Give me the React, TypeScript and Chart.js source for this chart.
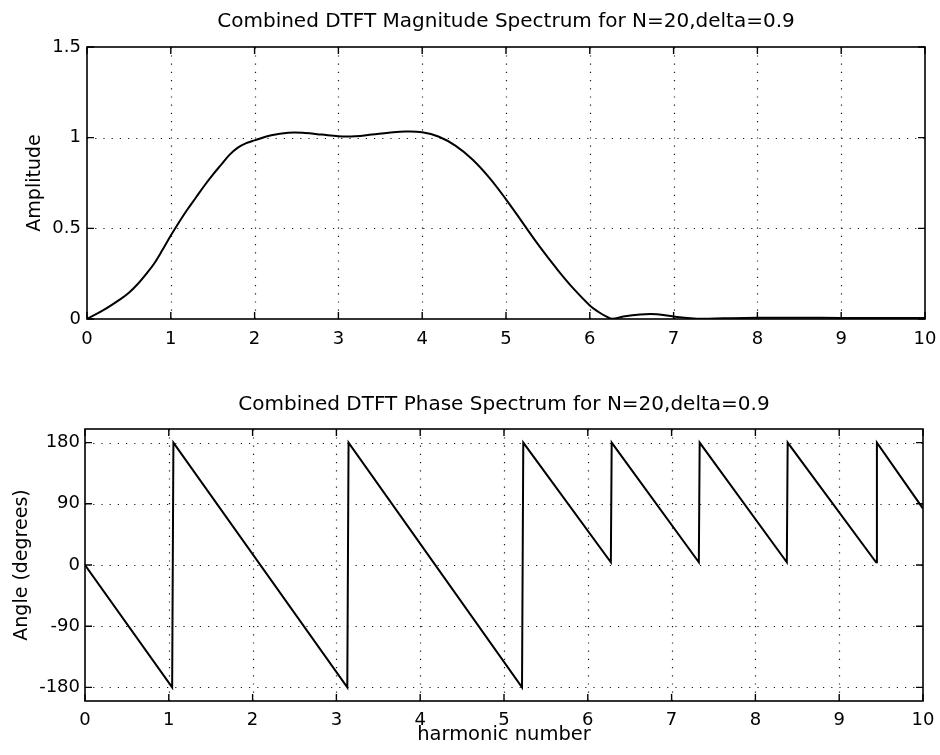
import React, { useEffect, useRef } from "react";
import { Chart, registerables } from "chart.js";

Chart.register(...registerables);

// ---- data ----
const magX = [0, 0.2, 0.4, 0.5, 0.6, 0.7, 0.8, 0.9, 1.0, 1.1, 1.2, 1.3, 1.4, 1.5, 1.6, 1.7, 1.8, 1.9, 2.0, 2.2, 2.4, 2.6, 2.8, 3.0, 3.2, 3.4, 3.6, 3.8, 4.0, 4.2, 4.4, 4.6, 4.8, 5.0, 5.2, 5.4, 5.6, 5.8, 6.0, 6.1, 6.2, 6.27, 6.4, 6.6, 6.8, 7.0, 7.2, 7.35, 7.6, 8.0, 8.5, 9.0, 9.5, 10];
const magY = [0, 0.05, 0.11, 0.145, 0.19, 0.245, 0.305, 0.38, 0.46, 0.535, 0.605, 0.67, 0.735, 0.795, 0.85, 0.905, 0.945, 0.97, 0.985, 1.013, 1.027, 1.026, 1.017, 1.008, 1.008, 1.017, 1.027, 1.034, 1.03, 1.005, 0.955, 0.88, 0.78, 0.66, 0.53, 0.4, 0.28, 0.17, 0.075, 0.04, 0.013, 0.001, 0.014, 0.025, 0.026, 0.014, 0.004, 0.001, 0.004, 0.007, 0.007, 0.006, 0.006, 0.005];

const phaseX = [0, 1.04, 1.055, 3.13, 3.145, 5.215, 5.23, 6.275, 6.285, 7.325, 7.335, 8.375, 8.385, 9.44, 9.45, 10];
const phaseY = [0, -180, 180, -180, 180, -180, 180, 4, 180, 4, 180, 4, 180, 4, 180, 83];

const xTicks = [0, 1, 2, 3, 4, 5, 6, 7, 8, 9, 10];
const magTicks = [0, 0.5, 1, 1.5];
const phaseTicks = [-180, -90, 0, 90, 180];

const magTitle = "Combined DTFT Magnitude Spectrum for N=20,delta=0.9";
const phaseTitle = "Combined DTFT Phase Spectrum for N=20,delta=0.9";
const magYLabel = "Amplitude";
const phaseYLabel = "Angle (degrees)";
const xLabel = "harmonic number";

const FONT = "'DejaVu Sans', sans-serif";

const framePlugin = {
  id: "matlabFrame",
  beforeDatasetsDraw(chart: any) {
    const { ctx, chartArea: a, scales } = chart;
    ctx.save();
    ctx.strokeStyle = "#1a1a1a";
    ctx.lineWidth = 1.2;
    ctx.setLineDash([1.2, 7]);
    scales.x.ticks.forEach((t: any) => {
      const px = Math.round(scales.x.getPixelForValue(t.value)) + 0.5;
      if (px > a.left + 2 && px < a.right - 2) {
        ctx.beginPath();
        ctx.moveTo(px, a.bottom);
        ctx.lineTo(px, a.top);
        ctx.stroke();
      }
    });
    scales.y.ticks.forEach((t: any) => {
      const py = Math.round(scales.y.getPixelForValue(t.value)) + 0.5;
      if (py > a.top + 2 && py < a.bottom - 2) {
        ctx.beginPath();
        ctx.moveTo(a.left, py);
        ctx.lineTo(a.right, py);
        ctx.stroke();
      }
    });
    ctx.restore();
  },
  afterDatasetsDraw(chart: any) {
    const { ctx, chartArea: a, scales } = chart;
    const tl = 7;
    ctx.save();
    ctx.setLineDash([]);
    ctx.strokeStyle = "#000";
    ctx.lineWidth = 1.6;
    ctx.strokeRect(a.left, a.top, a.right - a.left, a.bottom - a.top);
    ctx.lineWidth = 1.4;
    scales.x.ticks.forEach((t: any) => {
      const px = scales.x.getPixelForValue(t.value);
      ctx.beginPath();
      ctx.moveTo(px, a.bottom);
      ctx.lineTo(px, a.bottom - tl);
      ctx.moveTo(px, a.top);
      ctx.lineTo(px, a.top + tl);
      ctx.stroke();
    });
    scales.y.ticks.forEach((t: any) => {
      const py = scales.y.getPixelForValue(t.value);
      ctx.beginPath();
      ctx.moveTo(a.left, py);
      ctx.lineTo(a.left + tl, py);
      ctx.moveTo(a.right, py);
      ctx.lineTo(a.right - tl, py);
      ctx.stroke();
    });
    // title centred over the plot box
    const t = chart.options.plugins.boxTitle;
    if (t && t.text) {
      ctx.fillStyle = "#000";
      ctx.font = `20px ${FONT}`;
      ctx.textAlign = "center";
      ctx.textBaseline = "middle";
      ctx.fillText(t.text, (a.left + a.right) / 2, t.y);
    }
    ctx.restore();
  },
};

type Cfg = {
  xs: number[];
  ys: number[];
  smooth: boolean;
  title: string;
  titleY: number;
  topPad: number;
  yLabel: string;
  yLabelPad: number;
  yMin: number;
  yMax: number;
  yTicks: number[];
  yWidth: number;
  yTickPad: number;
  xHeight: number;
  xTickPad: number;
  xLabel?: string;
  xLabelPad?: number;
  rightPad: number;
};

function makeConfig(c: Cfg): any {
  const pts = c.xs.map((x, i) => ({ x, y: c.ys[i] }));
  return {
    type: "line",
    data: {
      datasets: [
        {
          data: pts,
          borderColor: "#000",
          borderWidth: 2,
          pointRadius: 0,
          fill: false,
          tension: c.smooth ? 0.4 : 0,
        },
      ],
    },
    options: {
      responsive: false,
      animation: false,
      devicePixelRatio: 1,
      layout: { padding: { left: 0, right: c.rightPad, top: c.topPad, bottom: 0 } },
      plugins: {
        legend: { display: false },
        tooltip: { enabled: false },
        title: { display: false },
        boxTitle: { text: c.title, y: c.titleY },
      },
      scales: {
        x: {
          type: "linear",
          min: 0,
          max: 10,
          grid: { display: false, drawTicks: false },
          border: { display: false },
          afterBuildTicks: (s: any) => {
            s.ticks = xTicks.map((v) => ({ value: v }));
          },
          afterFit: (s: any) => {
            s.height = c.xHeight;
            s.paddingLeft = 0;
            s.paddingRight = 0;
          },
          ticks: {
            autoSkip: false,
            maxRotation: 0,
            color: "#000",
            padding: c.xTickPad,
            font: { family: FONT, size: 18 },
            callback: (v: any) => String(v),
          },
          title: c.xLabel
            ? {
                display: true,
                text: c.xLabel,
                color: "#000",
                font: { family: FONT, size: 19.5 },
                padding: { top: 0, bottom: c.xLabelPad },
              }
            : { display: false },
        },
        y: {
          type: "linear",
          min: c.yMin,
          max: c.yMax,
          grid: { display: false, drawTicks: false },
          border: { display: false },
          afterBuildTicks: (s: any) => {
            s.ticks = c.yTicks.map((v) => ({ value: v }));
          },
          afterFit: (s: any) => {
            s.width = c.yWidth;
            s.paddingTop = 0;
            s.paddingBottom = 0;
          },
          ticks: {
            autoSkip: false,
            color: "#000",
            padding: c.yTickPad,
            font: { family: FONT, size: 18 },
            callback: (v: any) => String(v),
          },
          title: {
            display: true,
            text: c.yLabel,
            color: "#000",
            font: { family: FONT, size: 19 },
            padding: { top: c.yLabelPad, bottom: 0 },
          },
        },
      },
    },
    plugins: [framePlugin],
  };
}

function ChartCanvas({ cfg, width, height, top }: { cfg: Cfg; width: number; height: number; top: number }) {
  const ref = useRef<HTMLCanvasElement | null>(null);
  useEffect(() => {
    if (!ref.current) return;
    const chart = new Chart(ref.current, makeConfig(cfg));
    return () => chart.destroy();
  }, []);
  return (
    <canvas
      ref={ref}
      width={width}
      height={height}
      style={{ position: "absolute", left: 0, top, width, height, display: "block" }}
    />
  );
}

const topCfg: Cfg = {
  xs: magX,
  ys: magY,
  smooth: true,
  title: magTitle,
  titleY: 22,
  topPad: 47,
  yLabel: magYLabel,
  yLabelPad: 23.6,
  yMin: 0,
  yMax: 1.5,
  yTicks: magTicks,
  yWidth: 87,
  yTickPad: 6,
  xHeight: 51,
  xTickPad: 10,
  rightPad: 15,
};

const bottomCfg: Cfg = {
  xs: phaseX,
  ys: phaseY,
  smooth: false,
  title: phaseTitle,
  titleY: 35,
  topPad: 59,
  yLabel: phaseYLabel,
  yLabelPad: 10.3,
  yMin: -200,
  yMax: 200,
  yTicks: phaseTicks,
  yWidth: 85,
  yTickPad: 5,
  xHeight: 54,
  xTickPad: 9,
  xLabel: xLabel,
  xLabelPad: 8.5,
  rightPad: 17,
};

export default function App() {
  return (
    <div style={{ position: "fixed", left: 0, top: 0, width: 940, height: 755, background: "#fff", overflow: "hidden" }}>
      <ChartCanvas cfg={topCfg} width={940} height={370} top={0} />
      <ChartCanvas cfg={bottomCfg} width={940} height={385} top={370} />
    </div>
  );
}
